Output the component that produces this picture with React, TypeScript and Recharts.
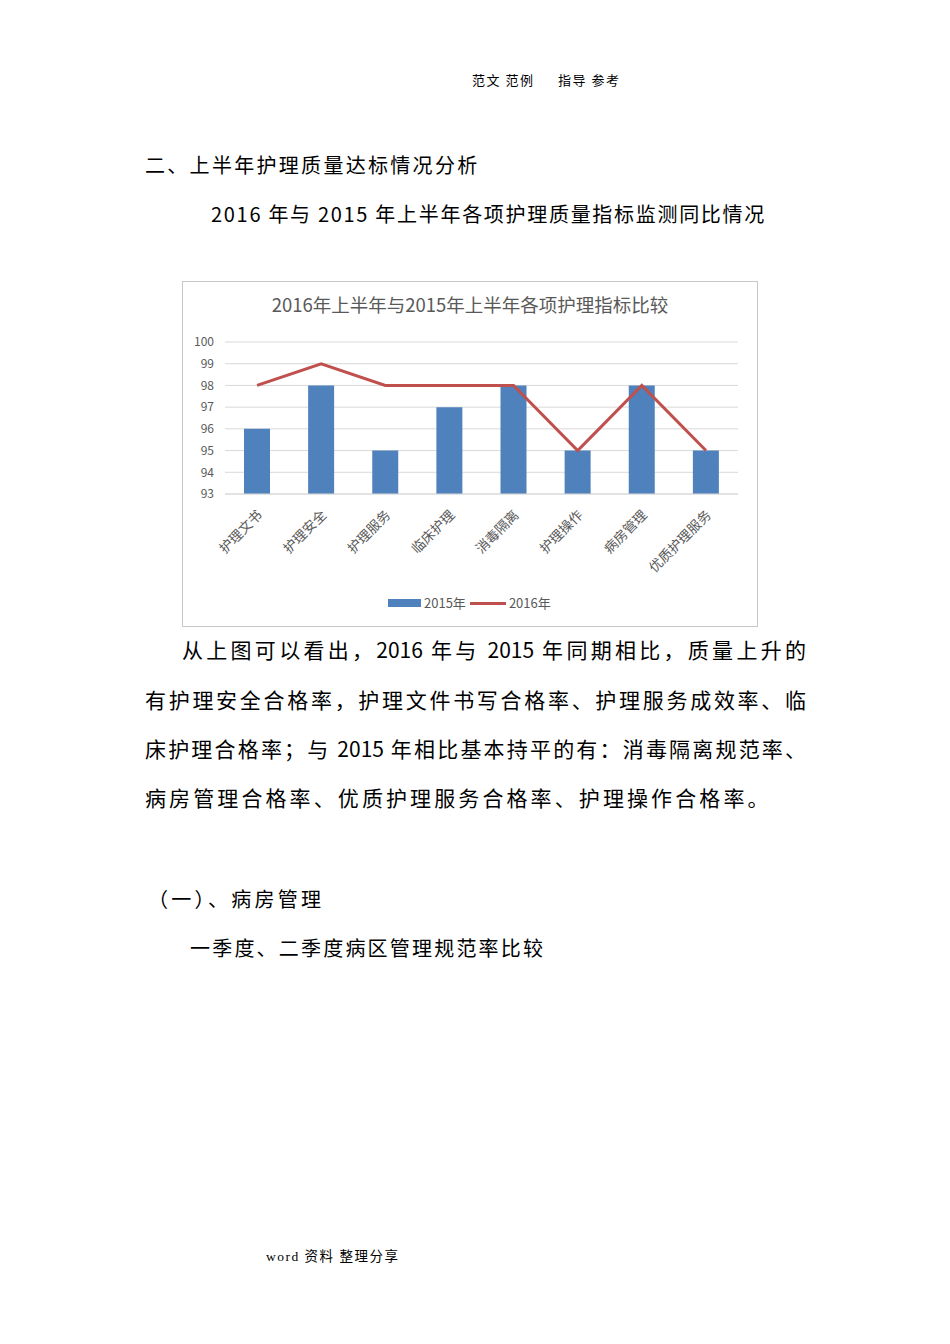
import React from "react"
import {
  Bar,
  CartesianGrid,
  ComposedChart,
  Line,
  XAxis,
  YAxis,
} from "recharts"

// 护理质量指标：2015 上半年（柱）与 2016 上半年（折线）
const categories = [
  "护理文书",
  "护理安全",
  "护理服务",
  "临床护理",
  "消毒隔离",
  "护理操作",
  "病房管理",
  "优质护理服务",
]
const values2015 = [96, 98, 95, 97, 98, 95, 98, 95]
const values2016 = [98, 99, 98, 98, 98, 95, 98, 95]
const yTicks = [93, 94, 95, 96, 97, 98, 99, 100]

const data = categories.map((name, i) => ({
  name,
  y2015: values2015[i],
  y2016: values2016[i],
}))

const CJK = '"Noto Sans CJK SC", "Noto Sans", sans-serif'
const GREY = "#595959"

function RotatedTick(props: any) {
  const { x, y, payload } = props
  return (
    <g transform={`translate(${x + 6},${y + 22})`}>
      <text
        x={0}
        y={0}
        textAnchor="end"
        transform="rotate(-45)"
        fill={GREY}
        fontSize={13.5}
        fontFamily={CJK}
      >
        {payload.value}
      </text>
    </g>
  )
}

function Txt({
  x,
  y,
  size,
  ls = 0,
  children,
  style,
}: {
  x: number
  y: number
  size: number
  ls?: number
  children: React.ReactNode
  style?: React.CSSProperties
}) {
  return (
    <div
      style={{
        position: "absolute",
        left: x,
        top: y - size * 0.6,
        fontSize: size,
        lineHeight: `${size * 1.2}px`,
        letterSpacing: ls,
        whiteSpace: "pre",
        fontFamily: CJK,
        color: "#000",
        ...style,
      }}
    >
      {children}
    </div>
  )
}

function JustLine({ y, indent = 0, children }: { y: number; indent?: number; children: React.ReactNode }) {
  return (
    <div
      style={{
        position: "absolute",
        left: 145 + indent,
        top: y - 13,
        width: 661 - indent,
        fontSize: 21,
        lineHeight: "26px",
        fontFamily: CJK,
        textAlign: "justify",
        textAlignLast: "justify",
        whiteSpace: "nowrap",
        color: "#000",
      }}
    >
      {children}
    </div>
  )
}

export default function App() {
  return (
    <div
      style={{
        position: "absolute",
        left: 0,
        top: 0,
        width: 950,
        height: 1344,
        background: "#fff",
        overflow: "hidden",
      }}
    >
      <Txt x={472} y={80} size={13} ls={1.5}>范文 范例</Txt>
      <Txt x={558} y={80} size={13} ls={1.5}>指导 参考</Txt>

      <Txt x={145} y={165} size={20} ls={2.3}>二、上半年护理质量达标情况分析</Txt>
      <Txt x={211} y={214} size={20} ls={1.7}>2016 年与 2015 年上半年各项护理质量指标监测同比情况</Txt>

      <div
        style={{
          position: "absolute",
          left: 182,
          top: 281,
          width: 576,
          height: 346,
          boxSizing: "border-box",
          border: "1px solid #c8c8c8",
          background: "#fff",
        }}
      >
        <div
          style={{
            position: "absolute",
            left: 0,
            top: 11,
            width: 574,
            textAlign: "center",
            fontSize: 18.5,
            lineHeight: "22px",
            color: GREY,
            fontFamily: CJK,
          }}
        >
          2016年上半年与2015年上半年各项护理指标比较
        </div>

        <ComposedChart
          width={574}
          height={344}
          data={data}
          margin={{ top: 60, right: 19, bottom: 0, left: 0 }}
        >
          <CartesianGrid vertical={false} stroke="#d9d9d9" />
          <XAxis
            dataKey="name"
            height={132}
            interval={0}
            tickLine={false}
            tickSize={0}
            tickMargin={0}
            axisLine={{ stroke: "#d9d9d9" }}
            tick={<RotatedTick />}
          />
          <YAxis
            width={42}
            domain={[93, 100]}
            ticks={yTicks}
            interval={0}
            axisLine={false}
            tickLine={false}
            tickMargin={5}
            tick={{ fill: GREY, fontSize: 12, fontFamily: CJK }}
          />
          <Bar dataKey="y2015" fill="#4F81BD" barSize={26} isAnimationActive={false} />
          <Line
            type="linear"
            dataKey="y2016"
            stroke="#C0504D"
            strokeWidth={3}
            dot={false}
            activeDot={false}
            isAnimationActive={false}
          />
        </ComposedChart>

        <div
          style={{
            position: "absolute",
            left: 205,
            top: 313,
            display: "flex",
            alignItems: "center",
            fontSize: 13,
            color: GREY,
            fontFamily: CJK,
            lineHeight: "16px",
          }}
        >
          <span style={{ display: "inline-block", width: 33, height: 8, background: "#4F81BD", marginRight: 3 }} />
          <span>2015年</span>
          <span style={{ display: "inline-block", width: 36, height: 3, background: "#C0504D", margin: "0 3px 0 4px" }} />
          <span>2016年</span>
        </div>
      </div>

      <JustLine y={649} indent={37}>从上图可以看出，2016 年与 2015 年同期相比，质量上升的</JustLine>
      <JustLine y={699}>有护理安全合格率，护理文件书写合格率、护理服务成效率、临</JustLine>
      <JustLine y={748}>床护理合格率；与 2015 年相比基本持平的有：消毒隔离规范率、</JustLine>
      <Txt x={145} y={798} size={21} ls={3.1}>病房管理合格率、优质护理服务合格率、护理操作合格率。</Txt>

      <Txt x={148} y={899} size={20} ls={3.3}>（一）、病房管理</Txt>
      <Txt x={190} y={948} size={20} ls={2.2}>一季度、二季度病区管理规范率比较</Txt>

      <Txt x={266} y={1257} size={13.5} ls={1.5} style={{ fontFamily: '"Liberation Serif", ' + CJK }}>word 资料 整理分享</Txt>
    </div>
  )
}
